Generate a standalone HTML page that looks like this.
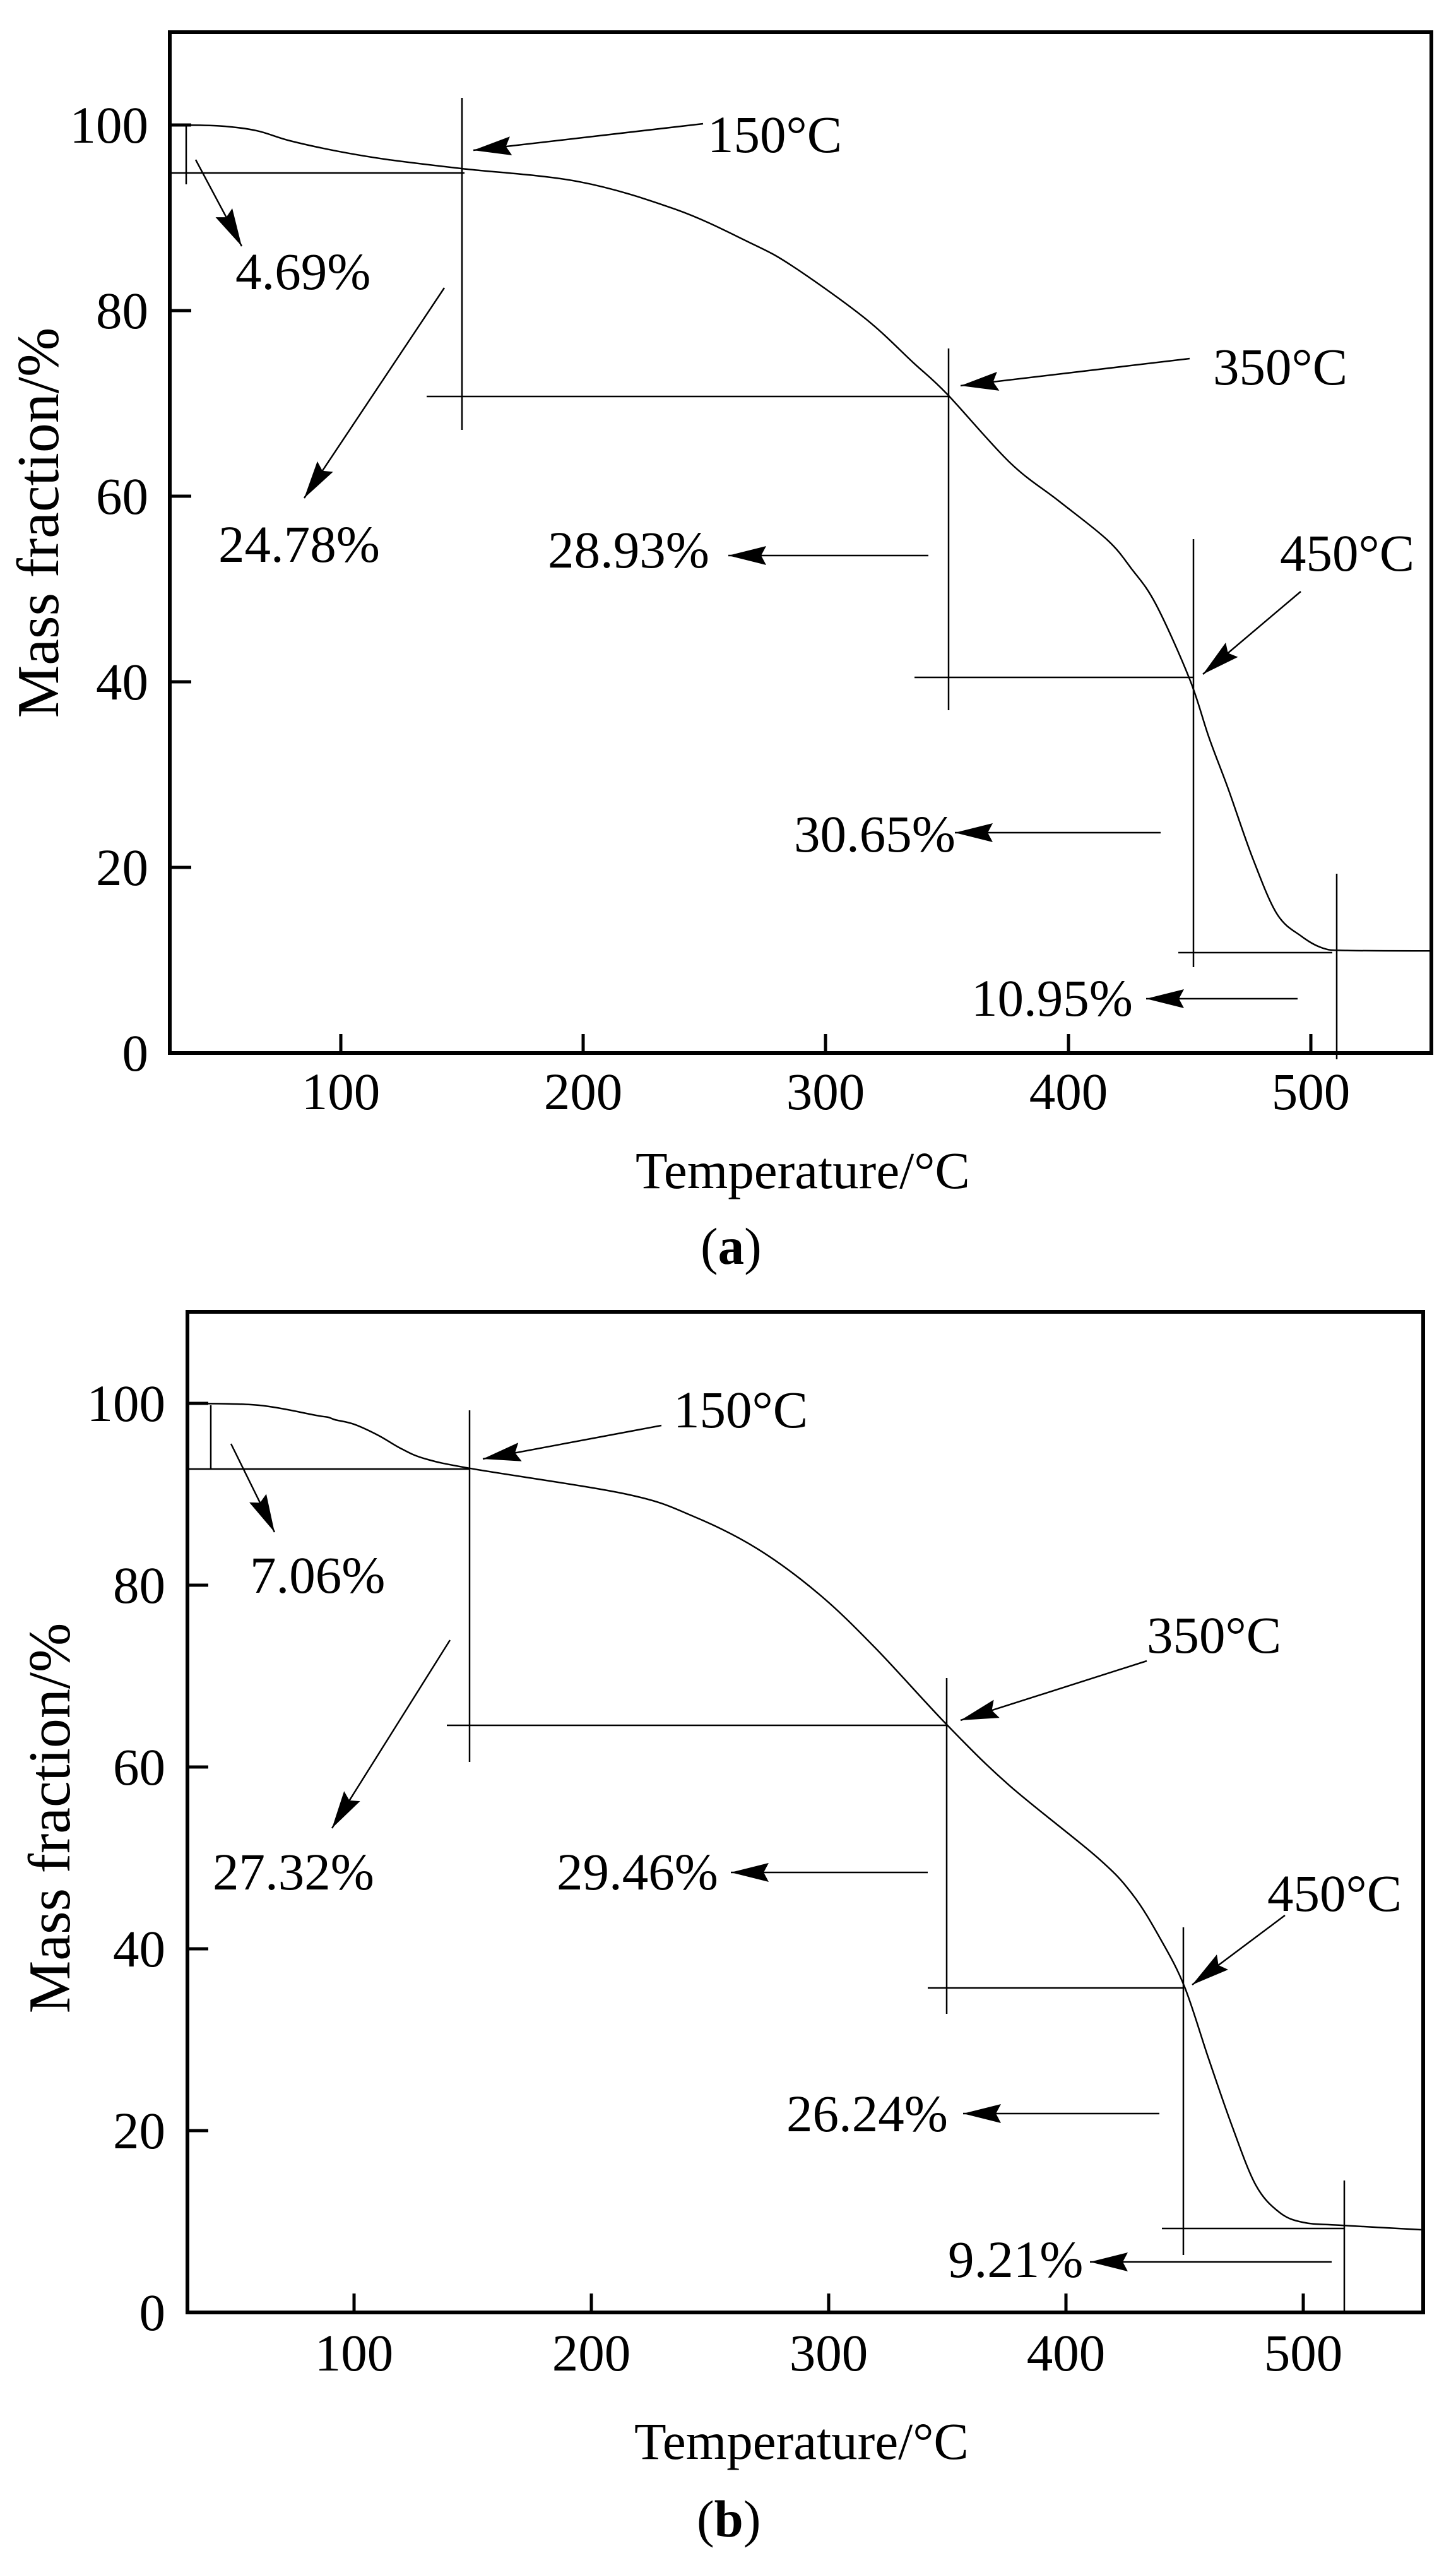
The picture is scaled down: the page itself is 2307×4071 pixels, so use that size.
<!DOCTYPE html>
<html><head><meta charset="utf-8"><style>
html,body{margin:0;padding:0;background:#fff;}
svg{display:block;}
text{font-family:"Liberation Serif",serif;font-size:83px;fill:#000;}
.yt{font-size:94px;}
</style></head><body>
<svg id="s" width="2307" height="4071" viewBox="0 0 2307 4071" xmlns="http://www.w3.org/2000/svg">
<defs>
<marker id="ah" markerUnits="userSpaceOnUse" markerWidth="64" markerHeight="34" refX="60" refY="17" orient="auto">
<polygon points="0,2 60,17 0,32 8,17" fill="#000"/>
</marker>
</defs>
<rect width="2307" height="4071" fill="#fff"/>

<!-- ================= (a) ================= -->
<g fill="none" stroke="#000">
<rect x="269" y="51" width="1999" height="1617" stroke-width="6"/>
<g stroke-width="5">
<line x1="269" y1="198" x2="303" y2="198"/>
<line x1="269" y1="492" x2="303" y2="492"/>
<line x1="269" y1="786" x2="303" y2="786"/>
<line x1="269" y1="1080" x2="303" y2="1080"/>
<line x1="269" y1="1374" x2="303" y2="1374"/>
<line x1="540" y1="1668" x2="540" y2="1638"/>
<line x1="924" y1="1668" x2="924" y2="1638"/>
<line x1="1308" y1="1668" x2="1308" y2="1638"/>
<line x1="1693" y1="1668" x2="1693" y2="1638"/>
<line x1="2077" y1="1668" x2="2077" y2="1638"/>
</g>
<path id="ca" stroke-width="2.5" d=""/>
<g stroke-width="2.5">
<line x1="295" y1="198" x2="295" y2="292"/>
<line x1="267" y1="274" x2="736" y2="274"/>
<line x1="732" y1="155" x2="732" y2="681"/>
<line x1="676" y1="628" x2="1505" y2="628"/>
<line x1="1503" y1="552" x2="1503" y2="1125"/>
<line x1="1449" y1="1073" x2="1891" y2="1073"/>
<line x1="1891" y1="854" x2="1891" y2="1532"/>
<line x1="1867" y1="1509" x2="2111" y2="1509"/>
<line x1="2118" y1="1384" x2="2118" y2="1678"/>
<line x1="1114" y1="196" x2="750" y2="238" marker-end="url(#ah)"/>
<line x1="310" y1="253" x2="383" y2="390" marker-end="url(#ah)"/>
<line x1="704" y1="456" x2="482" y2="789" marker-end="url(#ah)"/>
<line x1="1471" y1="880" x2="1154" y2="880" marker-end="url(#ah)"/>
<line x1="1885" y1="568" x2="1522" y2="611" marker-end="url(#ah)"/>
<line x1="2061" y1="937" x2="1906" y2="1068" marker-end="url(#ah)"/>
<line x1="1839" y1="1319" x2="1513" y2="1319" marker-end="url(#ah)"/>
<line x1="2056" y1="1582" x2="1816" y2="1582" marker-end="url(#ah)"/>
</g>
</g>
<g text-anchor="end">
<text x="235" y="226">100</text>
<text x="235" y="520">80</text>
<text x="235" y="814">60</text>
<text x="235" y="1108">40</text>
<text x="235" y="1402">20</text>
<text x="235" y="1696">0</text>
</g>
<g text-anchor="middle">
<text x="540" y="1757">100</text>
<text x="924" y="1757">200</text>
<text x="1308" y="1757">300</text>
<text x="1693" y="1757">400</text>
<text x="2077" y="1757">500</text>
</g>
<text x="1007" y="1882">Temperature/°C</text>
<text x="1110" y="2002">(<tspan font-weight="bold">a</tspan>)</text>
<text class="yt" transform="translate(92,828) rotate(-90)" text-anchor="middle">Mass fraction/%</text>
<text x="1121" y="241">150°C</text>
<text x="373" y="458">4.69%</text>
<text x="346" y="890">24.78%</text>
<text x="868" y="899">28.93%</text>
<text x="1922" y="609">350°C</text>
<text x="2028" y="904">450°C</text>
<text x="1258" y="1349">30.65%</text>
<text x="1539" y="1609">10.95%</text>

<!-- ================= (b) ================= -->
<g fill="none" stroke="#000">
<rect x="297" y="2078" width="1958" height="1585" stroke-width="6"/>
<g stroke-width="5">
<line x1="297" y1="2223" x2="330" y2="2223"/>
<line x1="297" y1="2511" x2="330" y2="2511"/>
<line x1="297" y1="2799" x2="330" y2="2799"/>
<line x1="297" y1="3087" x2="330" y2="3087"/>
<line x1="297" y1="3375" x2="330" y2="3375"/>
<line x1="561" y1="3663" x2="561" y2="3633"/>
<line x1="937" y1="3663" x2="937" y2="3633"/>
<line x1="1313" y1="3663" x2="1313" y2="3633"/>
<line x1="1689" y1="3663" x2="1689" y2="3633"/>
<line x1="2065" y1="3663" x2="2065" y2="3633"/>
</g>
<path id="cb" stroke-width="2.5" d=""/>
<g stroke-width="2.5">
<line x1="334" y1="2226" x2="334" y2="2327"/>
<line x1="294" y1="2327" x2="744" y2="2327"/>
<line x1="744" y1="2234" x2="744" y2="2791"/>
<line x1="708" y1="2733" x2="1501" y2="2733"/>
<line x1="1500" y1="2658" x2="1500" y2="3190"/>
<line x1="1470" y1="3149" x2="1875" y2="3149"/>
<line x1="1875" y1="3053" x2="1875" y2="3572"/>
<line x1="1841" y1="3530" x2="2130" y2="3530"/>
<line x1="2130" y1="3454" x2="2130" y2="3663"/>
<line x1="1048" y1="2258" x2="765" y2="2311" marker-end="url(#ah)"/>
<line x1="366" y1="2287" x2="435" y2="2427" marker-end="url(#ah)"/>
<line x1="713" y1="2598" x2="526" y2="2896" marker-end="url(#ah)"/>
<line x1="1470" y1="2966" x2="1158" y2="2966" marker-end="url(#ah)"/>
<line x1="1817" y1="2631" x2="1522" y2="2725" marker-end="url(#ah)"/>
<line x1="2036" y1="3034" x2="1889" y2="3144" marker-end="url(#ah)"/>
<line x1="1837" y1="3348" x2="1526" y2="3348" marker-end="url(#ah)"/>
<line x1="2110" y1="3583" x2="1727" y2="3583" marker-end="url(#ah)"/>
</g>
</g>
<g text-anchor="end">
<text x="262" y="2251">100</text>
<text x="262" y="2539">80</text>
<text x="262" y="2827">60</text>
<text x="262" y="3115">40</text>
<text x="262" y="3403">20</text>
<text x="262" y="3691">0</text>
</g>
<g text-anchor="middle">
<text x="561" y="3755">100</text>
<text x="937" y="3755">200</text>
<text x="1313" y="3755">300</text>
<text x="1689" y="3755">400</text>
<text x="2065" y="3755">500</text>
</g>
<text x="1005" y="3895">Temperature/°C</text>
<text x="1104" y="4018">(<tspan font-weight="bold">b</tspan>)</text>
<text class="yt" transform="translate(110,2880) rotate(-90)" text-anchor="middle">Mass fraction/%</text>
<text x="1067" y="2261">150°C</text>
<text x="396" y="2523">7.06%</text>
<text x="337" y="2993">27.32%</text>
<text x="882" y="2993">29.46%</text>
<text x="1817" y="2618">350°C</text>
<text x="2008" y="3027">450°C</text>
<text x="1246" y="3376">26.24%</text>
<text x="1502" y="3607">9.21%</text>
</svg>
<script>
function cr(p){var d="M"+p[0][0]+","+p[0][1];for(var i=0;i<p.length-1;i++){var p0=p[i-1]||p[i],p1=p[i],p2=p[i+1],p3=p[i+2]||p2;
var c1x=p1[0]+(p2[0]-p0[0])/6,c1y=p1[1]+(p2[1]-p0[1])/6,c2x=p2[0]-(p3[0]-p1[0])/6,c2y=p2[1]-(p3[1]-p1[1])/6;
d+=" C"+c1x.toFixed(1)+","+c1y.toFixed(1)+" "+c2x.toFixed(1)+","+c2y.toFixed(1)+" "+p2[0]+","+p2[1];}return d;}
var A=[[271,198],[348,199.5],[405.7,206.8],[459.5,223],[536.4,239.8],[613.2,252.6],[732.3,267.1],[916.7,287.7],[1070.4,331.6],[1185.7,383.2],[1254.8,421],[1370.1,503.8],[1446.9,574.3],[1500.7,624.3],[1600.6,733.1],[1677.4,793.4],[1754.3,855.1],[1792.7,900.7],[1831.1,956.5],[1884.9,1075.6],[1915.6,1168.2],[1946.4,1250.5],[1984.8,1359.3],[2023.2,1447.5],[2061.6,1482.8],[2096.2,1501.9],[2134.6,1505.6],[2266,1506.3]];
var B=[[299,2223],[410.6,2226],[500.8,2242],[520,2245],[531,2249],[561,2256.1],[600,2274],[636.2,2295],[673.8,2310.8],[749,2326.7],[993.4,2367],[1098.7,2402],[1200.2,2453.4],[1298,2525.4],[1388.2,2611.8],[1501,2732.8],[1598.8,2827.8],[1737.9,2941.6],[1794.3,3000.6],[1839.4,3072.6],[1877,3147.5],[1914.6,3259.8],[1952.2,3367.8],[1989.8,3461.4],[2027.4,3504.6],[2065,3520.4],[2121.4,3524.8],[2252,3532]];
document.getElementById("ca").setAttribute("d",cr(A));
document.getElementById("cb").setAttribute("d",cr(B));
</script>
</body></html>
